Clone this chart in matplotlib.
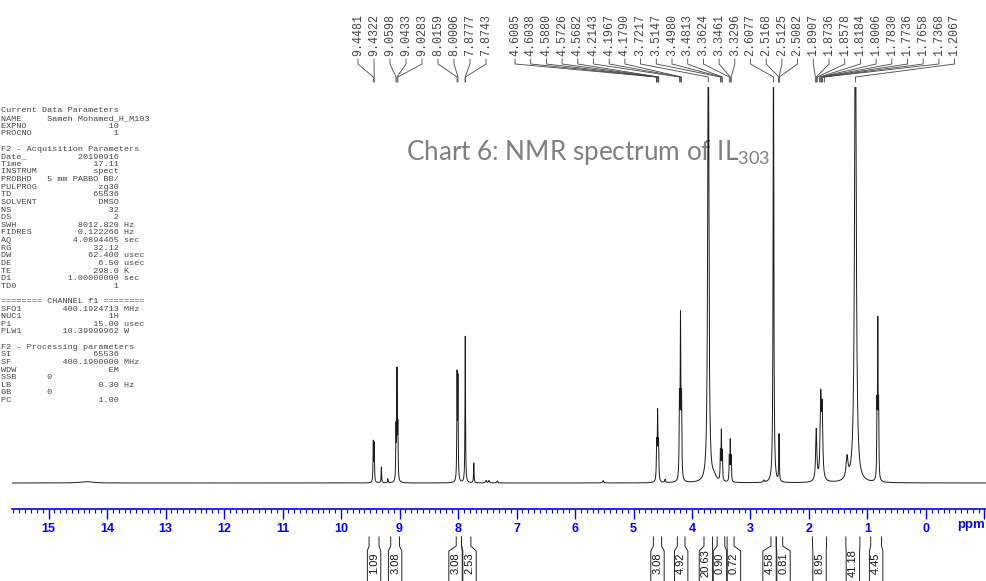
import numpy as np
import matplotlib
matplotlib.use("Agg")
import matplotlib.pyplot as plt
from matplotlib.ticker import MultipleLocator, FuncFormatter

# --------------------------------------------------------------------
# peak table: shift (ppm), height (% of plot height), half width (ppm)
peak_ppm = [14.35, 9.448, 9.432, 9.31, 9.20, 9.060, 9.043, 9.028, 8.016, 8.001,
            7.876, 7.73, 7.52, 7.47, 7.33, 5.52, 4.604, 4.588, 4.572, 4.46,
            4.2143, 4.1967, 4.1790, 3.7217, 3.62, 3.5147, 3.4980, 3.4813,
            3.3624, 3.3461, 3.3296, 2.77, 2.6077, 2.5168, 2.5125, 2.5082,
            1.876, 1.800, 1.775, 1.35, 1.2067, 0.838, 0.824, 0.810]
peak_height = [0.35, 10.0, 9.5, 4.0, 1.0, 13.0, 27.0, 13.0, 26.0, 25.0,
               37.0, 5.0, 0.6, 0.6, 0.5, 0.6, 9.0, 16.5, 9.0, 0.8,
               19.0, 39.5, 19.0, 120.0, 1.2, 7.0, 12.0, 7.0,
               6.0, 10.0, 6.0, 0.5, 120.0, 3.0, 9.0, 3.0,
               13.0, 20.0, 17.0, 5.5, 130.0, 17.0, 38.0, 17.0]
peak_hwhm = [0.12, 0.005, 0.005, 0.005, 0.006, 0.005, 0.005, 0.005, 0.005, 0.005,
             0.005, 0.005, 0.01, 0.01, 0.01, 0.01, 0.006, 0.006, 0.006, 0.008,
             0.006, 0.006, 0.006, 0.012, 0.04, 0.005, 0.005, 0.005,
             0.005, 0.005, 0.005, 0.01, 0.007, 0.004, 0.004, 0.004,
             0.012, 0.012, 0.012, 0.02, 0.016, 0.005, 0.005, 0.005]

shift_labels = ["9.4481", "9.4322", "9.0598", "9.0433", "9.0283", "8.0159", "8.0006",
                "7.8777", "7.8743",
                "4.6085", "4.6038", "4.5880", "4.5726", "4.5682", "4.2143", "4.1967",
                "4.1790", "3.7217", "3.5147", "3.4980", "3.4813", "3.3624", "3.3461",
                "3.3296", "2.6077", "2.5168", "2.5125", "2.5082", "1.8907", "1.8736",
                "1.8578", "1.8184", "1.8006", "1.7830", "1.7736", "1.7658", "1.7368",
                "1.2067"]

integral_start = [9.52, 9.15, 8.03, 7.94, 4.66, 4.25, 3.795, 3.57, 3.40, 2.65, 2.56, 1.94, 1.37, 0.945]
integral_end = [9.35, 9.00, 7.94, 7.78, 4.52, 4.12, 3.65, 3.44, 3.28, 2.56, 2.45, 1.70, 1.13, 0.76]
integral_values = ["1.09", "3.08", "3.08", "2.53", "3.08", "4.92", "20.63", "0.90", "0.72",
                   "4.58", "0.81", "8.95", "41.18", "4.45"]

param_keys = ["Current Data Parameters", "NAME", "EXPNO", "PROCNO", "",
              "F2 - Acquisition Parameters", "Date_", "Time", "INSTRUM", "PROBHD",
              "PULPROG", "TD", "SOLVENT", "NS", "DS", "SWH", "FIDRES", "AQ", "RG",
              "DW", "DE", "TE", "D1", "TD0", "",
              "======== CHANNEL f1 ========", "SFO1", "NUC1", "P1", "PLW1", "",
              "F2 - Processing parameters", "SI", "SF", "WDW", "SSB", "LB", "GB", "PC"]
param_values = ["", "Sameh Mohamed_H_M103", "10", "1", "",
                "", "20190916", "17.11", "spect", "5 mm PABBO BB/",
                "zg30", "65536", "DMSO", "32", "2", "8012.820", "0.122266", "4.0894465", "32.12",
                "62.400", "6.50", "298.0", "1.00000000", "1", "",
                "", "400.1924713", "1H", "15.00", "10.39999962", "",
                "", "65536", "400.1900000", "EM", "0", "0.30", "0", "1.00"]
param_units = ["", "", "", "", "",
               "", "", "", "", "",
               "", "", "", "", "", "Hz", "Hz", "sec", "",
               "usec", "usec", "K", "sec", "", "",
               "", "MHz", "", "usec", "W", "",
               "", "", "MHz", "", "", "Hz", "", ""]

# --------------------------------------------------------------------
W, H = 987, 581
PPM0_PX, PX_PER_PPM = 926.0, 58.5   # pixel of 0 ppm, pixels per ppm


def px2ppm(px):
    return (PPM0_PX - np.asarray(px, dtype=float)) / PX_PER_PPM


fig = plt.figure(figsize=(W / 100, H / 100), dpi=100)

# overlay: x in ppm, y in pixels from the top
ov = fig.add_axes([0, 0, 1, 1])
ov.set_xlim(px2ppm(0), px2ppm(W))
ov.set_ylim(H, 0)
ov.axis("off")
ov.set_zorder(0)

# spectrum axes (clips the tall peaks at the plot top)
ax = fig.add_axes([12 / W, (H - 509) / H, (W - 12) / W, (509 - 87) / H])
ax.set_zorder(1)
ax.patch.set_visible(False)
ax.set_xlim(px2ppm(12), px2ppm(W))
ax.set_ylim(-26 / 3.96, 100)

grid = np.linspace(px2ppm(12), px2ppm(W), 30000)
spec = np.zeros_like(grid)
for p, h, g in zip(peak_ppm, peak_height, peak_hwhm):
    spec += h * g ** 2 / ((grid - p) ** 2 + g ** 2)
ax.plot(grid, spec, color="#1a1a1a", lw=0.7)

for side in ["left", "right", "top"]:
    ax.spines[side].set_visible(False)
ax.spines["bottom"].set_color("#0000ff")
ax.spines["bottom"].set_linewidth(1.2)
ax.set_yticks([])
ax.xaxis.set_major_locator(MultipleLocator(1))
ax.xaxis.set_minor_locator(MultipleLocator(0.1))
ax.xaxis.set_major_formatter(FuncFormatter(lambda v, _: "" if v < -0.5 else str(int(round(v)))))
ax.tick_params(axis="x", which="major", length=7, width=1, color="#0000ff",
               labelcolor="#0000ff", labelsize=9, pad=3)
ax.tick_params(axis="x", which="minor", length=3, width=0.8, color="#0000ff")
for lbl in ax.get_xticklabels():
    lbl.set_fontweight("bold")
    lbl.set_family("Liberation Sans")
ov.text(px2ppm(957), 525, "ppm", color="#0000ff", fontweight="bold", fontsize=9.5,
        family="Liberation Sans", ha="left", va="center")

# peak shift labels with their connector lines
slot_px = np.r_[358 + 16.0 * np.arange(9), 515 + 15.7 * np.arange(29)]
for s, lab in zip(px2ppm(slot_px), shift_labels):
    v = float(lab)
    ov.plot([s, s, v, v], [59, 64, 77, 82], color="#444444", lw=0.6)
    ov.text(s, 56, lab, rotation=90, ha="center", va="bottom", family="Liberation Mono",
            fontsize=8.4, color="#444444")

# integrals under the axis
centers = [(a + b) / 2 for a, b in zip(integral_start, integral_end)]
gap = 14 / PX_PER_PPM
box_c = list(centers)
i = 0
while i < len(centers):
    j = i
    while j + 1 < len(centers) and centers[j] - centers[j + 1] < gap:
        j += 1
    n = j - i + 1
    m = np.mean(centers[i:j + 1])
    for k in range(n):
        box_c[i + k] = m - gap * (k - (n - 1) / 2)
    i = j + 1

hw = 6.7 / PX_PER_PPM
for a, b, c, val in zip(integral_start, integral_end, box_c, integral_values):
    ov.plot([a, a, c + hw, c + hw], [537, 546, 551, 600], color="#222222", lw=0.7)
    ov.plot([b, b, c - hw, c - hw], [537, 546, 551, 600], color="#222222", lw=0.7)
    ov.text(c, 563, val, rotation=90, ha="center", va="center", fontsize=8,
            family="Liberation Sans", color="#111111")

# acquisition / processing parameter block
for n, (key, val, unit) in enumerate(zip(param_keys, param_values, param_units)):
    if val == "":
        line = key
    elif key in ("NAME", "SSB", "GB"):
        line = f"{key:<9}{val}"
    else:
        line = f"{key:<9}{val:>14}"
    if unit:
        line += " " + unit
    ov.text(px2ppm(1), 111 + 7.62 * n, line, family="Liberation Mono", fontsize=6.1,
            color="#444444", ha="left", va="center")

# title
fig.text(406 / W, 1 - 160 / H, r"Chart 6: NMR spectrum of IL$_{\mathregular{303}}$",
         family="Lato", fontsize=18.8, color="#7f7f7f", ha="left", va="baseline", zorder=0)

fig.savefig("out.png", dpi=100)
